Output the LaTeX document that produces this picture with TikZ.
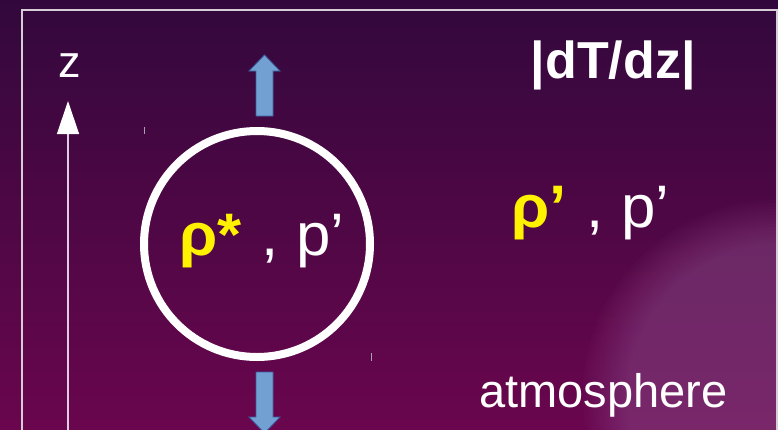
\documentclass[tikz,border=0pt]{standalone}
\usepackage{fontspec}
\setmainfont{Liberation Sans}
\usetikzlibrary{arrows.meta}
\definecolor{bgtop}{RGB}{50,8,60}
\definecolor{bgbot}{RGB}{106,6,78}
\definecolor{glowc}{RGB}{185,135,185}
\definecolor{framec}{RGB}{215,205,215}
\definecolor{axisc}{RGB}{225,205,225}
\definecolor{arrfill}{RGB}{114,160,210}
\definecolor{arrdraw}{RGB}{60,95,160}
\definecolor{rhoy}{RGB}{255,242,0}
\definecolor{tickc}{RGB}{170,160,175}
\tikzset{
  blockarrow/.style={fill=arrfill, draw=arrdraw, line width=0.8pt, line join=miter},
  txt/.style={anchor=base west, inner sep=0pt, text=white},
  tickmark/.style={draw=tickc, line width=0.8pt}
}
\begin{document}
\begin{tikzpicture}[x=1pt,y=-1pt]
\useasboundingbox (0,0) rectangle (778,429);
\clip (0,0) rectangle (778,429);
% background
\shade[top color=bgtop, bottom color=bgbot] (0,0) rectangle (778,429);
% soft glow at lower right
\foreach \r in {150,153,...,195}{
  \fill[glowc, fill opacity=0.025] (778,395) circle[radius=\r];
}
% frame
\draw[framec, line width=1.6pt] (22,440) -- (22,10) -- (777,10) -- (777,440);
% z axis
\coordinate (zbot) at (68,440);
\coordinate (ztip) at (68,101);
\draw[axisc, line width=1.3pt, -{Triangle[length=33pt,width=22pt,fill=white,color=white]}] (zbot) -- (ztip);
\node[txt, font=\fontsize{45}{50}\selectfont] (zlab) at (58,77) {z};
% parcel
\node[circle, draw=white, line width=8pt, minimum size=226pt, inner sep=0pt] (parcel) at (257,244) {};
\node[txt, font=\fontsize{60}{66}\selectfont] (ptxt) at (179,255) {\scalebox{1.03}[1]{\textcolor{rhoy}{\bfseries ρ*}\hspace{3pt} , p’}};
% vertical motion arrows
\draw[blockarrow] (256,116) -- (256,71) -- (249,71) -- (264.5,55) -- (280,71) -- (273,71) -- (273,116) -- cycle;
\draw[blockarrow] (256,372) -- (256,417) -- (249,417) -- (264.5,433) -- (280,417) -- (273,417) -- (273,372) -- cycle;
% environment text
\node[txt, font=\fontsize{52}{58}\selectfont\bfseries] (grad) at (530.5,78) {|dT/dz|};
\node[txt, font=\fontsize{60}{66}\selectfont] (etxt) at (511,227) {\scalebox{1.03}[1]{\textcolor{rhoy}{\bfseries ρ’}\hspace{3pt} , p’}};
\node[txt, font=\fontsize{47}{52}\selectfont] (atm) at (479,407) {atmosphere};
% small tick marks
\draw[tickmark] (144,127) -- (144,134);
\draw[tickmark] (371,353) -- (371,361);
\end{tikzpicture}
\end{document}
